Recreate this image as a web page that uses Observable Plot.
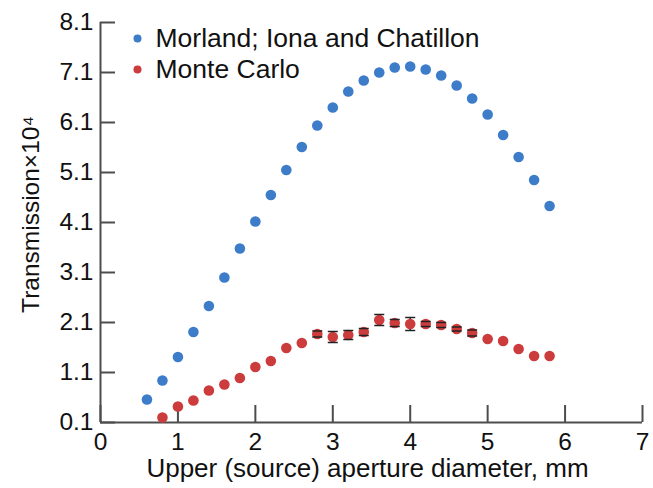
<!DOCTYPE html>
<html><head><meta charset="utf-8">
<script src="https://cdn.jsdelivr.net/npm/d3@7"></script>
<script src="https://cdn.jsdelivr.net/npm/@observablehq/plot@0.6"></script>
<style>body{margin:0;background:#fff}</style>
</head><body><div id="chart"></div>
<script>
// Morland; Iona and Chatillon (measured)
const morlandDiameter = [0.6,0.8,1.0,1.2,1.4,1.6,1.8,2.0,2.2,2.4,2.6,2.8,3.0,3.2,3.4,3.6,3.8,4.0,4.2,4.4,4.6,4.8,5.0,5.2,5.4,5.6,5.8];
const morlandValue    = [0.56,0.94,1.41,1.91,2.43,3.00,3.58,4.12,4.65,5.15,5.61,6.04,6.40,6.72,6.94,7.10,7.20,7.22,7.16,7.04,6.84,6.58,6.26,5.85,5.41,4.95,4.43];
// Monte Carlo
const mcDiameter = [0.8,1.0,1.2,1.4,1.6,1.8,2.0,2.2,2.4,2.6,2.8,3.0,3.2,3.4,3.6,3.8,4.0,4.2,4.4,4.6,4.8,5.0,5.2,5.4,5.6,5.8];
const mcValue    = [0.20,0.42,0.54,0.74,0.86,0.99,1.21,1.33,1.59,1.69,1.87,1.81,1.85,1.91,2.15,2.09,2.07,2.07,2.05,1.97,1.89,1.77,1.73,1.57,1.43,1.43];
const mcError    = [0,0,0,0,0,0,0,0,0,0,0.06,0.11,0.09,0.07,0.11,0.07,0.13,0.05,0.05,0.04,0.06,0,0,0,0,0];

const xTicks = [0,1,2,3,4,5,6,7];
const yTicks = [0.1,1.1,2.1,3.1,4.1,5.1,6.1,7.1,8.1];
const seriesNames = ["Morland; Iona and Chatillon", "Monte Carlo"];
const seriesColors = ["#3d7cc9", "#cd3c3c"];
const xLabel = "Upper (source) aperture diameter, mm";
const yLabel = "Transmission\u00d710\u2074";

const morland = morlandDiameter.map((d, i) => ({d, v: morlandValue[i]}));
const mc = mcDiameter.map((d, i) => ({d, v: mcValue[i], e: mcError[i]}));
const mcErr = mc.filter(p => p.e > 0);

const W = 653, H = 488, mL = 100, mR = 11, mT = 22, mB = 66;
const innerW = W - mL - mR, innerH = H - mT - mB;
const xTickLen = 17, yTickLen = 15;

const capSymbol = {draw(ctx) { ctx.moveTo(-5, 0); ctx.lineTo(5, 0); }};

const axisColor = "#4d4d4d";
const xMin = xTicks[0], yMin = yTicks[0];

const legendMarks = seriesNames.flatMap((name, i) => [
  Plot.dot([name], {frameAnchor: "top-left", dx: 37, dy: 16 + i * 31, r: 4, fill: seriesColors[i]}),
  Plot.text([name], {frameAnchor: "top-left", dx: 55, dy: 16 + i * 31, text: d => d, textAnchor: "start", lineAnchor: "middle", fontSize: 26.5, fill: "#111"})
]);

const chart = Plot.plot({
  width: W,
  height: H,
  marginLeft: mL,
  marginRight: mR,
  marginTop: mT,
  marginBottom: mB,
  style: {fontFamily: "'Liberation Sans', Arial, sans-serif", background: "#fff", color: "#111"},
  x: {domain: [xTicks[0], xTicks[xTicks.length - 1]]},
  y: {domain: [yTicks[0], yTicks[yTicks.length - 1]]},
  marks: [
    Plot.axisX({ticks: xTicks, tickSize: 0, tickPadding: 10, tickFormat: d3.format("d"), fontSize: 24.5, fill: "#111", label: null}),
    Plot.axisY({ticks: yTicks, tickSize: 0, tickPadding: 7, tickFormat: d3.format(".1f"), fontSize: 24.5, fill: "#111", label: null}),
    Plot.ruleX(xTicks, {x: d => d, insetTop: innerH - xTickLen, stroke: axisColor, strokeWidth: 2}),
    Plot.ruleY(yTicks, {y: d => d, insetRight: innerW - yTickLen, stroke: axisColor, strokeWidth: 2}),
    Plot.ruleX([xMin], {stroke: axisColor, strokeWidth: 2}),
    Plot.ruleY([yMin], {stroke: axisColor, strokeWidth: 2}),
    Plot.ruleX(mcErr, {x: "d", y1: p => p.v - p.e, y2: p => p.v + p.e, stroke: "#222", strokeWidth: 1.5}),
    Plot.dot(morland, {x: "d", y: "v", r: 5.3, fill: seriesColors[0]}),
    Plot.dot(mc, {x: "d", y: "v", r: 5.3, fill: seriesColors[1]}),
    Plot.dot(mcErr, {x: "d", y: p => p.v + p.e, symbol: capSymbol, stroke: "#222", strokeWidth: 1.5, fill: "none"}),
    Plot.dot(mcErr, {x: "d", y: p => p.v - p.e, symbol: capSymbol, stroke: "#222", strokeWidth: 1.5, fill: "none"}),
    Plot.text([xLabel], {frameAnchor: "bottom", dy: 46, dx: -4, text: d => d, lineAnchor: "middle", textAnchor: "middle", fontSize: 26, fill: "#111"}),
    Plot.text([yLabel], {frameAnchor: "left", rotate: -90, dx: -69, dy: -8, text: d => d, textAnchor: "middle", lineAnchor: "middle", fontSize: 24.5, fill: "#111"}),
    ...legendMarks
  ]
});
document.getElementById("chart").appendChild(chart);
</script>
</body></html>
